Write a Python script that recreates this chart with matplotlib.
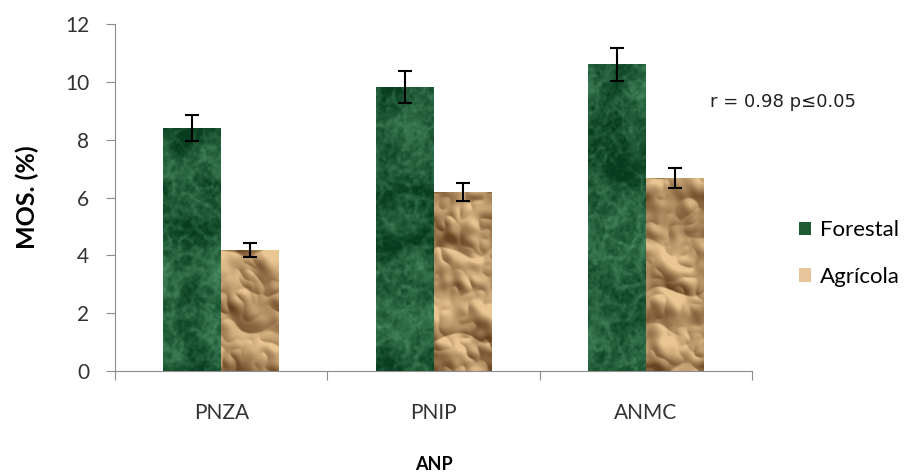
import numpy as np
import matplotlib
matplotlib.use("Agg")
import matplotlib.pyplot as plt
from matplotlib.patches import Patch

# MOS (%) por área natural protegida y uso de suelo
sitios = ["PNZA", "PNIP", "ANMC"]
forestal = [8.4, 9.83, 10.62]
forestal_err = [0.45, 0.55, 0.57]
agricola = [4.2, 6.2, 6.68]
agricola_err = [0.24, 0.3, 0.33]

plt.rcParams["font.family"] = ["Lato", "DejaVu Sans"]

rng = np.random.default_rng(7)


def ruido_suave(shape, sigma):
    # ruido gaussiano filtrado en frecuencia
    w = rng.standard_normal(shape)
    fy = np.fft.fftfreq(shape[0])[:, None]
    fx = np.fft.fftfreq(shape[1])[None, :]
    k = np.exp(-2 * (np.pi * sigma) ** 2 * (fx ** 2 + fy ** 2))
    r = np.real(np.fft.ifft2(np.fft.fft2(w) * k))
    return (r - r.mean()) / r.std()


def textura_marmol(h, w):
    base = ruido_suave((h, w), 12)
    vetas = np.exp(-(ruido_suave((h, w), 5) / 0.7) ** 2)
    grano = ruido_suave((h, w), 1.2)
    t = np.clip(0.2 + 0.10 * base + 0.18 * vetas + 0.06 * grano, 0, 1)[..., None]
    oscuro = np.array([0.03, 0.24, 0.12])
    claro = np.array([0.40, 0.68, 0.50])
    return oscuro * (1 - t) + claro * t


def textura_papel(h, w):
    alt = (0.6 * ruido_suave((h, w), 18) - np.abs(ruido_suave((h, w), 12))
           - 0.3 * np.abs(ruido_suave((h, w), 5)))
    gy, gx = np.gradient(alt)
    d = gx * 0.6 - gy * 0.8
    d /= d.std()
    luz = np.clip(0.58 + 0.24 * d, 0, 1)[..., None]
    oscuro = np.array([0.40, 0.26, 0.13])
    claro = np.array([0.92, 0.78, 0.58])
    return oscuro * (1 - luz) + claro * luz


fig = plt.figure(figsize=(9.06, 4.74), dpi=100)
ax = fig.add_axes([0.127, 0.217, 0.703, 0.732])

x = np.arange(len(sitios))
ancho = 0.273
b1 = ax.bar(x - ancho / 2, forestal, ancho, color="#1f5a36", edgecolor="white",
            linewidth=1, zorder=2)
b2 = ax.bar(x + ancho / 2, agricola, ancho, color="#c9a27a", edgecolor="white",
            linewidth=1, zorder=2)

# rellenar cada barra con su textura
for barras, textura in ((b1, textura_marmol), (b2, textura_papel)):
    for p in barras:
        x0, w, hgt = p.get_x(), p.get_width(), p.get_height()
        img = textura(int(hgt * 30) + 4, 64)
        im = ax.imshow(img, extent=(x0, x0 + w, 0, hgt), aspect="auto",
                       interpolation="bilinear", zorder=2.5)
        im.set_clip_path(p)

ax.errorbar(x - ancho / 2, forestal, yerr=forestal_err, fmt="none", ecolor="black",
            elinewidth=1.5, capsize=5, capthick=1.5, zorder=3)
ax.errorbar(x + ancho / 2, agricola, yerr=agricola_err, fmt="none", ecolor="black",
            elinewidth=1.5, capsize=5, capthick=1.5, zorder=3)

ax.set_xlim(-0.5, len(sitios) - 0.5)
ax.set_ylim(0, 12)
ax.set_yticks(range(0, 13, 2))
ax.set_xticks(np.arange(-0.5, len(sitios), 1.0))
ax.set_xticklabels([])
ax.set_xticks(x, minor=True)
ax.set_xticklabels(sitios, minor=True)
ax.tick_params(axis="x", which="major", length=6.5, color="#8c8c8c")
ax.tick_params(axis="x", which="minor", length=0, pad=23, labelsize=15, labelcolor="#333333")
ax.tick_params(axis="y", length=6.5, color="#8c8c8c", labelsize=15, labelcolor="#333333", pad=12)
for s in ("top", "right"):
    ax.spines[s].set_visible(False)
for s in ("left", "bottom"):
    ax.spines[s].set_color("#8c8c8c")

ax.set_ylabel("MOS. (%)", fontsize=18, fontweight="bold", labelpad=19)
ax.set_xlabel("ANP", fontsize=13, fontweight="bold", labelpad=24)

fig.text(0.864, 0.785, "r = 0.98 p\u22640.05", fontsize=13, ha="center", va="center",
         family=["DejaVu Sans"], color="#222222")

leg = fig.legend(handles=[Patch(facecolor="#1f5a36", label="Forestal"),
                          Patch(facecolor="#e8c49a", label="Agrícola")],
                 loc="center left", bbox_to_anchor=(0.86, 0.465), frameon=False,
                 fontsize=16, handlelength=0.55, handleheight=0.55, handletextpad=0.4,
                 labelspacing=1.2)

fig.savefig("out.png", dpi=100)
